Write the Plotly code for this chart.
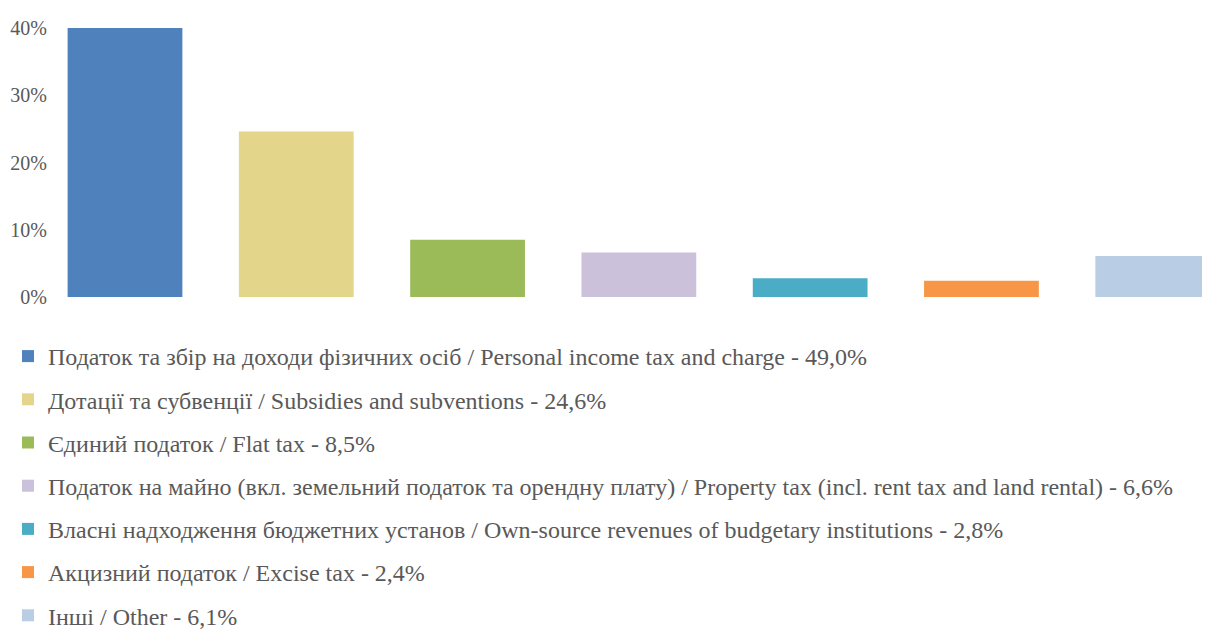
import plotly.graph_objects as go

categories = [
    "Податок та збір на доходи фізичних осіб / Personal income tax and charge",
    "Дотації та субвенції / Subsidies and subventions",
    "Єдиний податок / Flat tax",
    "Податок на майно (вкл. земельний податок та орендну плату) / Property tax (incl. rent tax and land rental)",
    "Власні надходження бюджетних установ / Own-source revenues of budgetary institutions",
    "Акцизний податок / Excise tax",
    "Інші / Other",
]
shares = [49.0, 24.6, 8.5, 6.6, 2.8, 2.4, 6.1]
colors = ["#4F81BD", "#E3D68A", "#9BBB59", "#CCC1DA", "#4BACC6", "#F79646", "#B9CDE5"]

font = '"Liberation Serif", "Times New Roman", serif'
grey = "#595959"

fig = go.Figure()
for i, (cat, val, col) in enumerate(zip(categories, shares, colors)):
    label = cat + " - " + f"{val:.1f}".replace(".", ",") + "%"
    fig.add_trace(go.Bar(
        x=[i], y=[val / 100], name=label, width=0.67,
        marker=dict(color=col, line=dict(width=0)),
        legendgroup=f"g{i}",
    ))

fig.update_layout(
    width=1210, height=633,
    margin=dict(l=40, r=0, t=20, b=344),
    barmode="overlay",
    plot_bgcolor="white", paper_bgcolor="white",
    font=dict(family=font, color=grey),
    showlegend=True,
    legend=dict(
        orientation="v", x=-40 / 1170, xanchor="left",
        yref="container", y=1 - 326 / 633, yanchor="top",
        font=dict(family=font, size=24, color=grey),
        tracegroupgap=9, traceorder="grouped",
        bgcolor="rgba(0,0,0,0)", maxheight=1,
    ),
)
fig.update_xaxes(range=[-0.4495, 6.381], showticklabels=False, showgrid=False,
                 zeroline=False, showline=False, ticks="")
fig.update_yaxes(range=[0, 0.4], dtick=0.1, tickformat=".0%", showgrid=False,
                 zeroline=False, showline=False,
                 tickfont=dict(family=font, size=20, color=grey))

fig.write_html("out.html")
